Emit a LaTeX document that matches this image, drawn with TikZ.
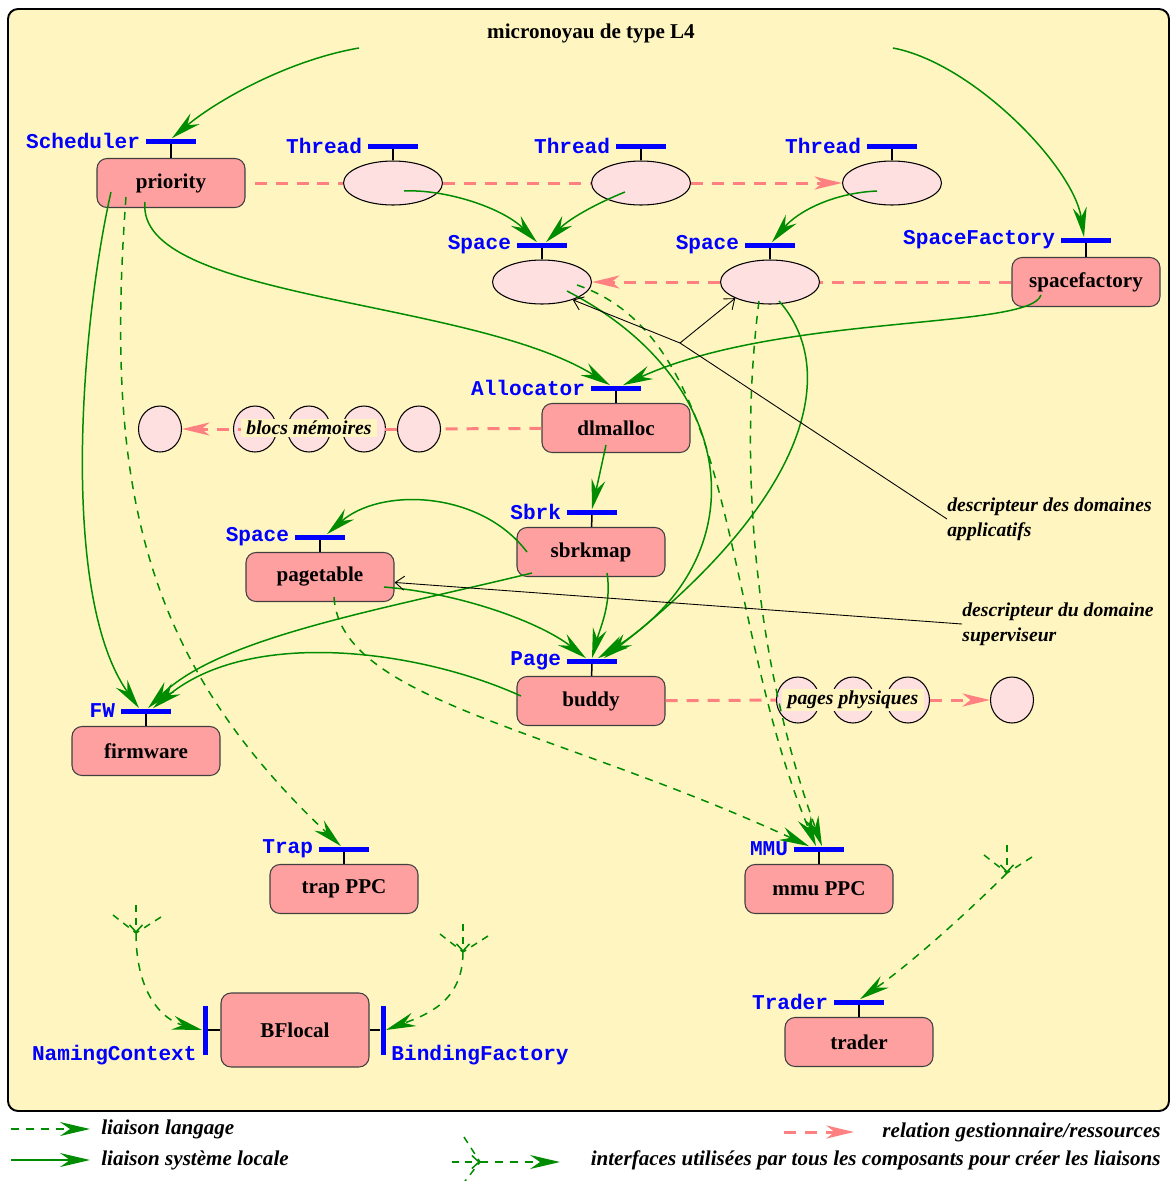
\documentclass[tikz,border=0pt]{standalone}
\usepackage{fontspec}
\setmainfont{Liberation Serif}
\setmonofont{Liberation Mono}
\usetikzlibrary{shapes.geometric,arrows.meta,calc}
\definecolor{fond}{RGB}{255,245,192}
\definecolor{compo}{RGB}{255,160,160}
\definecolor{ress}{RGB}{255,224,224}
\definecolor{vert}{RGB}{0,140,0}
\definecolor{rouge}{RGB}{255,128,128}
\tikzset{fourche/.pic={
  \draw[forkline, -{Straight Barb[length=1.4mm,width=2.6mm]}] (0,-28) -- (0,0);
  \draw[forkline] (-23,-18) -- (0,0);
  \draw[forkline] (25,-16) -- (0,0);
}}

\begin{document}
\begin{tikzpicture}[x=0.02cm, y=-0.02cm, font=\fontsize{12}{14}\selectfont\bfseries,
  comp/.style = {draw=black!75, fill=compo, line width=0.6pt, rounded corners=0.2cm, minimum width=2.96cm, minimum height=0.98cm},
  thr/.style = {ellipse, draw, fill=ress, line width=0.6pt, minimum width=1.98cm, minimum height=0.88cm},
  bloc/.style = {ellipse, draw, fill=ress, line width=0.6pt, minimum width=0.86cm, minimum height=0.92cm},
  itfname/.style = {blue, inner sep=3pt, font=\fontsize{12}{14}\selectfont\ttfamily\bfseries},
  itf/.style = {fill=blue, inner sep=0pt, minimum width=1cm, minimum height=0.1cm, label={[itfname]left:#1}},
  vitf/.style = {fill=blue, inner sep=0pt, minimum width=0.1cm, minimum height=0.98cm},
  stem/.style = {line width=0.85pt},
  sys/.style = {draw=vert, line width=0.85pt, -{Stealth[length=6mm,width=2.8mm,inset=2mm]}},
  lang/.style = {sys, dash pattern=on 0.16cm off 0.14cm},
  forkline/.style = {draw=vert, line width=0.85pt, dash pattern=on 0.14cm off 0.12cm},
  res/.style = {draw=rouge, line width=1.7pt, dash pattern=on 0.24cm off 0.18cm},
  resarr/.style = {res, -{Stealth[length=5.5mm,width=2.6mm,inset=1.6mm]}},
  desc/.style = {draw=black, line width=0.5pt, -{Straight Barb[length=1.8mm,width=2.8mm]}},
  note/.style = {inner sep=0pt, align=left, font=\fontsize{11.2}{14.2}\selectfont\bfseries\itshape},
  legende/.style = {inner sep=0pt, font=\fontsize{12}{14}\selectfont\bfseries\itshape},
  lbl/.style = {fill=fond, inner xsep=3pt, inner ysep=1pt, font=\fontsize{11.2}{14}\selectfont\bfseries\itshape}]
  \useasboundingbox (0,0) rectangle (1170,1181);
  \draw[fill=fond, line width=1.1pt, rounded corners=0.2cm] (8,9) rectangle (1169,1111);
  \node (titre) at (591,33) {micronoyau de type L4};

  \node[comp] (prio) at (171,183) {priority};
  \node[comp] (sf) at (1086,282) {spacefactory};
  \node[comp] (dlm) at (616,428) {dlmalloc};
  \node[comp] (sbm) at (591,552) {sbrkmap};
  \node[comp] (pt) at (320,577) {pagetable};
  \node[comp] (bud) at (591,701) {buddy};
  \node[comp] (fw) at (146,751) {firmware};
  \node[comp] (trap) at (344,889) {trap PPC};
  \node[comp] (mmu) at (819,889) {mmu PPC};
  \node[comp, minimum height=1.48cm] (bfl) at (295,1030) {BFlocal};
  \node[comp] (tr) at (859,1042) {trader};

  \node[thr] (t1) at (393,183) {};
  \node[thr] (t2) at (641,183) {};
  \node[thr] (t3) at (892,183) {};
  \node[thr] (sp1) at (542,282) {};
  \node[thr] (sp2) at (770,282) {};

  \node[itf=Scheduler] (schI) at (171,141) {};
  \node[itf=Thread] (t1I) at (393,146) {};
  \node[itf=Thread] (t2I) at (641,146) {};
  \node[itf=Thread] (t3I) at (892,146) {};
  \node[itf=Space] (sp1I) at (542,245) {};
  \node[itf=Space] (sp2I) at (770,245) {};
  \node[itf=SpaceFactory] (sfI) at (1086,240) {};
  \node[itf=Allocator] (allocI) at (616,388) {};
  \node[itf=Sbrk] (sbI) at (592,512) {};
  \node[itf=Space] (ptI) at (320,537) {};
  \node[itf=Page] (pgI) at (592,661) {};
  \node[itf=FW] (fwI) at (146,711) {};
  \node[itf=Trap] (trapI) at (344,849) {};
  \node[itf=MMU] (mmuI) at (819,849) {};
  \node[itf=Trader] (trI) at (859,1002) {};
  \node[vitf, label={[itfname, anchor=east]south west:NamingContext}] (ncI) at (205,1030) {};
  \node[vitf, label={[itfname, anchor=west]south east:BindingFactory}] (bfI) at (383,1030) {};

  \draw[stem] (schI) -- (prio);
  \draw[stem] (t1I) -- (t1);
  \draw[stem] (t2I) -- (t2);
  \draw[stem] (t3I) -- (t3);
  \draw[stem] (sp1I) -- (sp1);
  \draw[stem] (sp2I) -- (sp2);
  \draw[stem] (sfI) -- (sf);
  \draw[stem] (allocI) -- (dlm);
  \draw[stem] (sbI) -- (sbm);
  \draw[stem] (ptI) -- (pt);
  \draw[stem] (pgI) -- (bud);
  \draw[stem] (fwI) -- (fw);
  \draw[stem] (trapI) -- (trap);
  \draw[stem] (mmuI) -- (mmu);
  \draw[stem] (trI) -- (tr);
  \draw[stem] (ncI) -- (bfl);
  \draw[stem] (bfI) -- (bfl);

  \node[bloc] (b1) at (160,429) {};
  \node[bloc] (b2) at (255,429) {};
  \node[bloc] (b3) at (309,429) {};
  \node[bloc] (b4) at (364,429) {};
  \node[bloc] (b5) at (419,429) {};
  \node[bloc] (p1) at (798,700) {};
  \node[bloc] (p2) at (853,700) {};
  \node[bloc] (p3) at (908,700) {};
  \node[bloc] (p4) at (1012,700) {};

  \draw[res, shorten <=0.18cm] (prio) -- (t1);
  \draw[res] (t1) -- (t2);
  \draw[resarr] (t2) -- (t3);
  \draw[res] (sf) -- (sp2);
  \draw[resarr] (sp2) -- (sp1);
  \draw[res] (dlm) -- (b5);
  \draw[resarr] (b5) -- (b1);
  \draw[res] (bud) -- (p1);
  \draw[resarr] (p3) -- (p4);
  \node[lbl] (blocs) at (309,428) {blocs mémoires};
  \node[lbl] (pages) at (853,700) {pages physiques};

  \coordinate (k1) at (359,48);
  \coordinate (k2) at (893,48);
  \draw[sys] (k1) .. controls +(-70,12) and +(45,-38) .. ($(schI.north)+(1,0)$);
  \draw[sys] (k2) .. controls +(80,15) and +(-10,-70) .. ($(sfI.north)+(-2,0)$);
  \draw[sys] ($(t1)+(11,8)$) .. controls +(40,-2) and +(-35,-35) .. ($(sp1I.north)+(-5,0)$);
  \draw[sys] ($(t2)+(-16,9)$) .. controls +(-25,10) and +(25,-25) .. ($(sp1I.north)+(4,0)$);
  \draw[sys] ($(t3)+(-15,8)$) .. controls +(-45,2) and +(25,-30) .. ($(sp2I.north)+(2,0)$);
  \draw[sys] ($(prio)+(-26,19)$) .. controls +(-10,98) and +(-140,-87) .. ($(allocI.north)+(-6,0)$);
  \draw[sys] ($(sf)+(-45,13)$) .. controls +(-11,35) and +(157,-72) .. ($(allocI.north)+(7,0)$);
  \draw[sys] ($(prio)+(-60,9)$) .. controls +(-31,138) and +(-79,-111) .. ($(fwI.north)+(-7,0)$);
  \draw[sys] ($(dlm)+(-10,17)$) -- (sbI.north);
  \draw[sys] ($(sbm)+(-64,0)$) .. controls +(-47,-62) and +(53,-47) .. ($(ptI.north)+(7,0)$);
  \draw[sys] ($(sbm)+(-59,21)$) .. controls +(-152,37) and +(72,-71) .. ($(fwI.north)+(2,0)$);
  \draw[sys] ($(pt)+(64,10)$) .. controls +(76,6) and +(-46,-36) .. ($(pgI.north)+(-6,0)$);
  \draw[sys] ($(sbm)+(16,21)$) .. controls +(5,30) and +(8,-30) .. (pgI.north);
  \draw[sys] ($(bud)+(-70,-5)$) .. controls +(-101,-46) and +(97,-81) .. ($(fwI.north)+(7,0)$);
  \draw[sys] ($(sp1)+(25,9)$) .. controls +(173,89) and +(162,-101) .. ($(pgI.north)+(6,0)$);
  \draw[sys] ($(sp2)+(9,19)$) .. controls +(61,69) and +(206,-161) .. ($(pgI.north)+(12,0)$);

  \draw[lang] ($(prio)+(-45,14)$) .. controls +(-21,283) and +(-201,-189) .. ($(trapI.north)+(-3,0)$);
  \draw[lang] ($(pt)+(14,20)$) .. controls +(6,103) and +(-259,-119) .. ($(mmuI.north)+(-10,0)$);
  \draw[lang] ($(sp1)+(35,3)$) .. controls +(163,55) and +(-96,-229) .. ($(mmuI.north)+(-3,0)$);
  \draw[lang] ($(sp2)+(-11,19)$) .. controls +(-19,149) and +(-72,-199) .. ($(mmuI.north)+(3,0)$);

  \coordinate (f1) at (136,933);
  \coordinate (f2) at (463,952);
  \coordinate (f3) at (1007,873);
  \pic at (f1) {fourche};
  \pic at (f2) {fourche};
  \pic at (f3) {fourche};
  \draw[lang] (f1) .. controls +(0,60) and +(-40,-10) .. (ncI.west);
  \draw[lang] (f2) .. controls +(0,50) and +(40,-15) .. (bfI.east);
  \draw[lang] (f3) .. controls +(-40,40) and +(50,-35) .. ($(trI.north)+(1,0)$);

  \coordinate (j1) at (680,343);
  \node[note, anchor=west] (dsc1) at (947,519) {descripteur des domaines\\applicatifs};
  \node[note, anchor=west] (dsc2) at (962,624) {descripteur du domaine\\superviseur};
  \draw[line width=0.5pt] (dsc1.west) -- (j1);
  \draw[desc] (j1) -- (sp1.-30);
  \draw[desc] (j1) -- (sp2.205);
  \draw[desc] (dsc2.west) -- (pt);

  \node[legende, anchor=west] (lg1) at (101,1129) {liaison langage};
  \node[legende, anchor=west] (lg2) at (101,1160) {liaison système locale};
  \node[legende, anchor=east] (lg3) at (1161,1132) {relation gestionnaire/ressources};
  \node[legende, anchor=east] (lg4) at (1161,1160) {interfaces utilisées par tous les composants pour créer les liaisons};
  \coordinate (a1) at (11,1129);
  \coordinate (a2) at (11,1160);
  \coordinate (a3) at (784,1132);
  \coordinate (f4) at (480,1162);
  \draw[lang, shorten >=0.22cm] (a1) -- (lg1.west);
  \draw[sys, shorten >=0.22cm] (a2) -- (lg2.west);
  \draw[resarr] (a3) -- ++(70,0);
  \pic[rotate=90] at (f4) {fourche};
  \draw[lang] (f4) -- ++(80,0);
\end{tikzpicture}
\end{document}
